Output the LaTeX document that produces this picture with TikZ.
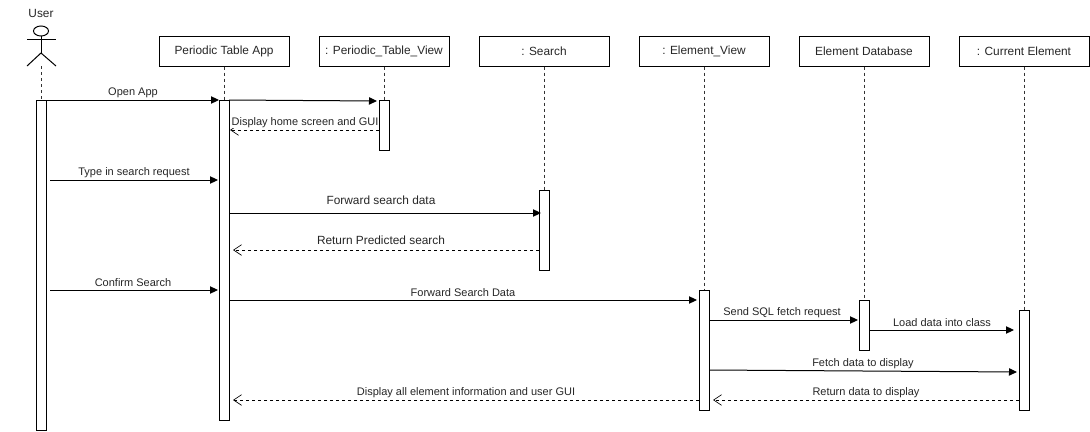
\documentclass[tikz,border=0pt]{standalone}
\usepackage{fontspec}
\setmainfont{Liberation Sans}
\usetikzlibrary{arrows.meta}
\newcommand{\linew}{0.75pt}
\newcommand{\labelsize}{\fontsize{8.25pt}{10pt}\selectfont}
\newcommand{\boxsize}{\fontsize{8.9pt}{11pt}\selectfont}
\tikzset{
  obj/.style={draw, line width=\linew, minimum width=97.5pt, minimum height=22.5pt, inner sep=0pt, font=\boxsize, text=black!85},
  bar/.style={draw, fill=white, line width=\linew, minimum width=7.5pt, inner sep=0pt},
  lifeline/.style={black!80, line width=\linew, dash pattern=on 2.25pt off 2.25pt},
  msg/.style={line width=\linew, -{Triangle[length=6pt,width=5.5pt]}},
  ret/.style={line width=0.6pt, dash pattern=on 2.25pt off 2.25pt, -{Straight Barb[length=6pt,width=8pt,line width=0.5pt]}},
  txt/.style={inner sep=0pt, font=\labelsize, text=black!85},
  txtbig/.style={inner sep=0pt, font=\boxsize, text=black!85}
}

\begin{document}
\begin{tikzpicture}[x=0.75pt,y=-0.75pt]
\useasboundingbox (0,0) rectangle (1090,432);
%actor
\node[txtbig] (username) at (41,13) {User};
\draw[line width=\linew] (41,31) ellipse [x radius=7.5, y radius=5];
\draw[line width=\linew] (27,39.5) -- (56,39.5);
\draw[line width=\linew] (41,36) -- (41,53) coordinate (hip);
\draw[line width=\linew] (27,66) -- (hip) -- (56,66);
\coordinate (userfoot) at (41,66);
%objects
\node[obj] (app) at (224,51) {Periodic Table App};
\node[obj] (view) at (384,51) {: Periodic\_Table\_View};
\node[obj] (search) at (544,51) {: Search};
\node[obj] (elem) at (704,51) {: Element\_View};
\node[obj] (db) at (864,51) {Element Database};
\node[obj] (cur) at (1024,51) {: Current Element};
%bars
\node[bar, minimum height=247.5pt] (userbar) at (41,265) {};
\node[bar, minimum height=240pt] (appbar) at (224,260) {};
\node[bar, minimum height=37.5pt] (viewbar) at (384,125) {};
\node[bar, minimum height=60pt] (searchbar) at (544,230) {};
\node[bar, minimum height=90pt] (elembar) at (704,350) {};
\node[bar, minimum height=37.5pt] (dbbar) at (864,325) {};
\node[bar, minimum height=75pt] (curbar) at (1024,360) {};
%lifelines
\draw[lifeline] (userfoot) -- (userbar.north);
\draw[lifeline] (app.south) -- (appbar.north);
\draw[lifeline] (view.south) -- (viewbar.north);
\draw[lifeline] (search.south) -- (searchbar.north);
\draw[lifeline] (elem.south) -- (elembar.north);
\draw[lifeline] (db.south) -- (dbbar.north);
\draw[lifeline] (cur.south) -- (curbar.north);
%message ends
\coordinate (a1) at (46,100);
\coordinate (a2) at (219,100);
\coordinate (b1) at (229,100);
\coordinate (b2) at (377,101);
\coordinate (c1) at (379,130);
\coordinate (c2) at (230,130);
\coordinate (d1) at (50,180);
\coordinate (d2) at (218,180);
\coordinate (e1) at (229,213);
\coordinate (e2) at (541,213);
\coordinate (f1) at (539,250);
\coordinate (f2) at (233,250);
\coordinate (g1) at (50,290);
\coordinate (g2) at (218,290);
\coordinate (h1) at (229,300);
\coordinate (h2) at (697,300);
\coordinate (i1) at (709,320);
\coordinate (i2) at (858,320);
\coordinate (j1) at (869,330);
\coordinate (j2) at (1014,330);
\coordinate (k1) at (709,370);
\coordinate (k2) at (1017,372);
\coordinate (l1) at (1019,400);
\coordinate (l2) at (713,400);
\coordinate (m1) at (699,400);
\coordinate (m2) at (233,400);
%messages
\draw[msg] (a1) -- (a2);
\draw[msg] (b1) -- (b2);
\draw[ret] (c1) -- (c2);
\draw[msg] (d1) -- (d2);
\draw[msg] (e1) -- (e2);
\draw[ret] (f1) -- (f2);
\draw[msg] (g1) -- (g2);
\draw[msg] (h1) -- (h2);
\draw[msg] (i1) -- (i2);
\draw[msg] (j1) -- (j2);
\draw[msg] (k1) -- (k2);
\draw[ret] (l1) -- (l2);
\draw[ret] (m1) -- (m2);
%labels
\node[txt] (la) at (133,92.5) {Open App};
\node[txt, fill=white] (lc) at (305,122.5) {Display home screen and GUI};
\node[txt] (ld) at (134,172.5) {Type in search request};
\node[txtbig] (le) at (381,200) {Forward search data};
\node[txtbig] (lf) at (381,240) {Return Predicted search};
\node[txt] (lg) at (133,282.5) {Confirm Search};
\node[txt] (lh) at (463,292.5) {Forward Search Data};
\node[txt] (li) at (782,312.5) {Send SQL fetch request};
\node[txt] (lj) at (942,322.5) {Load data into class};
\node[txt] (lk) at (863,363.5) {Fetch data to display};
\node[txt] (ll) at (866,392.5) {Return data to display};
\node[txt] (lm) at (466,392.5) {Display all element information and user GUI};
\end{tikzpicture}
\end{document}
